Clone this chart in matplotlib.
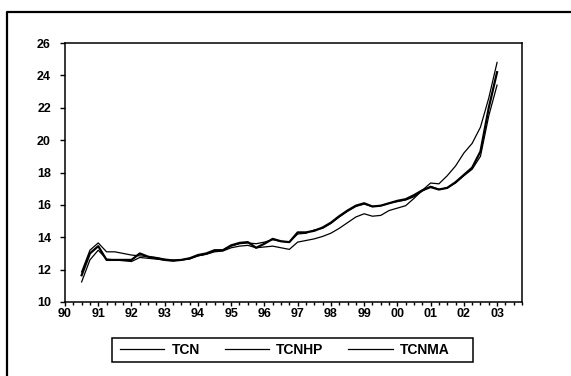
import numpy as np
import matplotlib
matplotlib.use('Agg')
import matplotlib.pyplot as plt
from matplotlib.lines import Line2D
from matplotlib.patches import Rectangle
from matplotlib.ticker import MultipleLocator

# quarterly observations, 1990Q3 .. 2003Q1
start_year = 1990.5
n_obs = 51
dates = start_year + 0.25 * np.arange(n_obs)

tcn = [11.65, 13.0, 13.45, 12.6, 12.6, 12.6, 12.6, 13.0, 12.8, 12.7,
       12.6, 12.55, 12.6, 12.7, 12.9, 13.0, 13.2, 13.2, 13.5, 13.65,
       13.7, 13.35, 13.6, 13.9, 13.75, 13.7, 14.3, 14.3, 14.4, 14.6,
       14.9, 15.3, 15.65, 15.95, 16.1, 15.9, 15.95, 16.1, 16.25, 16.35,
       16.6, 16.9, 17.1, 16.95, 17.05, 17.4, 17.85, 18.3, 19.3, 22.0,
       24.2]
tcnhp = [11.86, 13.2, 13.65, 13.1, 13.1, 13.0, 12.9, 12.85, 12.8, 12.75,
         12.65, 12.6, 12.6, 12.7, 12.85, 12.95, 13.15, 13.2, 13.45, 13.6,
         13.65, 13.6, 13.7, 13.85, 13.75, 13.7, 14.2, 14.25, 14.45, 14.55,
         14.85, 15.25, 15.6, 15.9, 16.05, 15.9, 15.95, 16.1, 16.2, 16.3,
         16.5, 16.85, 17.15, 16.95, 17.05, 17.35, 17.8, 18.2, 19.0, 21.5,
         23.4]
tcnma = [11.24, 12.6, 13.2, 12.65, 12.6, 12.55, 12.5, 12.75, 12.7, 12.65,
         12.6, 12.55, 12.6, 12.65, 12.85, 12.95, 13.1, 13.15, 13.35, 13.45,
         13.5, 13.35, 13.4, 13.45, 13.35, 13.25, 13.7, 13.8, 13.9, 14.05,
         14.25, 14.55, 14.9, 15.25, 15.45, 15.3, 15.35, 15.65, 15.8, 15.95,
         16.4, 16.9, 17.35, 17.3, 17.8, 18.4, 19.2, 19.8, 20.8, 22.6,
         24.8]

year_ticks = list(range(1990, 2004))
year_labels = ['90', '91', '92', '93', '94', '95', '96', '97', '98', '99',
               '00', '01', '02', '03']

plt.rcParams['font.family'] = 'Liberation Sans'
plt.rcParams['font.weight'] = 'bold'

W, H = 571, 376
fig = plt.figure(figsize=(W / 100, H / 100), dpi=100)
ax = fig.add_axes([65 / W, 1 - 302 / H, (522 - 65) / W, (302 - 43) / H])

ax.plot(dates, tcn, color='black', lw=1.6, label='TCN')
ax.plot(dates, tcnhp, color='black', lw=0.9, label='TCNHP')
ax.plot(dates, tcnma, color='black', lw=0.9, label='TCNMA')

ax.set_xlim(1990, 2003.75)
ax.set_ylim(10, 26)
ax.set_yticks(range(10, 27, 2))
ax.set_xticks(year_ticks)
ax.set_xticklabels(year_labels)
ax.xaxis.set_minor_locator(MultipleLocator(0.25))
ax.tick_params(axis='y', which='major', direction='out', length=3.6,
               width=1, labelsize=9, pad=6.5)
ax.tick_params(axis='x', which='major', direction='out', length=3,
               width=1, labelsize=9, pad=1.5)
ax.tick_params(axis='x', which='minor', direction='out', length=2.2, width=1)
for s in ax.spines.values():
    s.set_linewidth(1.1)

leg = fig.legend(loc='center left', bbox_to_anchor=(120 / W, 1 - 350 / H), ncol=3,
                 frameon=False, fontsize=10, handlelength=3.2,
                 columnspacing=1.8, handletextpad=0.5, borderpad=0,
                 borderaxespad=0)
for h in leg.get_lines():
    h.set_linewidth(0.9)

# legend box, wider on the right as in the original
fig.add_artist(Rectangle((112 / W, 1 - 362 / H), (473 - 112) / W, 24 / H,
                         transform=fig.transFigure, fill=False,
                         edgecolor='black', lw=1.1))

# outer frame (only left and top edges fall inside the picture)
fig.add_artist(Line2D([7 / W, 7 / W, 1.0], [0.0, 1 - 12 / H, 1 - 12 / H],
                      transform=fig.transFigure, color='black', lw=1.6))

fig.savefig('out.png', dpi=100)
